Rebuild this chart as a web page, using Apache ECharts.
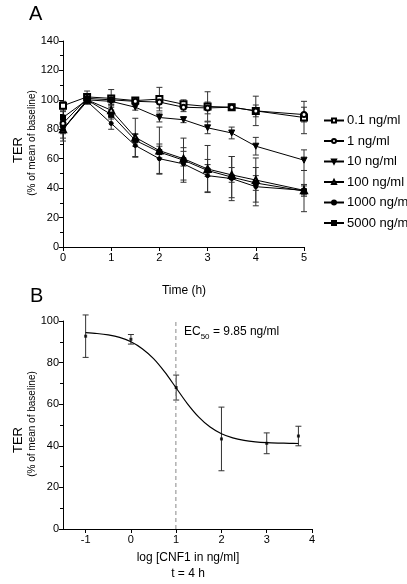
<!DOCTYPE html>
<html><head><meta charset="utf-8">
<script src="https://cdn.jsdelivr.net/npm/echarts@6/dist/echarts.min.js"></script>
<style>html,body{margin:0;padding:0;background:#fff}#c{width:407px;height:584px}</style>
</head><body><div id="c"></div>
<script>
// Panel A: TER over time
const timeH = [0, 0.5, 1, 1.5, 2, 2.5, 3, 3.5, 4, 5];
const seriesNames = ['0.1 ng/ml', '1 ng/ml', '10 ng/ml', '100 ng/ml', '1000 ng/ml', '5000 ng/ml'];
const ter01 = [96, 102, 101, 99.5, 100.5, 97, 95.5, 95, 92.5, 88];
const err01 = [3, 4, 6, 2, 8, 3, 10, 2, 10, 11];
const ter1 = [84, 101, 100, 99, 98.5, 95, 94.5, 95, 92.5, 90];
const err1 = [4, 3, 3, 2, 4, 3, 4, 2, 4, 5];
const ter10 = [80, 100, 99, 95, 88, 86.5, 81, 77.5, 68.5, 59];
const err10 = [3, 2, 3, 2, 3, 2, 4, 4, 6, 7];
const ter100 = [80, 100, 93, 74.5, 65.5, 60, 53, 49, 45.5, 38.5];
const err100 = [6, 2, 4, 13, 16, 5, 16, 5, 15, 4];
const ter1000 = [80, 99, 84, 69, 60, 56.5, 48.5, 46.5, 41, 38.5];
const err1000 = [8, 2, 4, 8, 10, 11, 11, 15, 13, 3];
const ter5000 = [88, 100, 90, 72.5, 64.5, 59, 52, 47.5, 43.5, 38];
const err5000 = [4, 2, 3, 4, 4, 15, 4, 14, 5, 14];

// Panel B: dose response at t = 4 h
const logDose = [-1, 0, 1, 2, 3, 3.7];
const terB = [92.7, 91.2, 68, 43.3, 41.2, 44.7];
const errB = [10.2, 2.3, 6, 15.3, 5, 4.7];
const fitX = [-1, -0.75, -0.5, -0.25, 0, 0.25, 0.5, 0.75, 1, 1.25, 1.5, 1.75, 2, 2.25, 2.5, 2.75, 3, 3.25, 3.5, 3.7];
const fitY = [94.4, 94.0, 93.3, 92.1, 90.0, 86.7, 81.9, 75.4, 67.8, 60.2, 53.8, 49.0, 45.8, 43.8, 42.6, 41.9, 41.5, 41.3, 41.2, 41.1];
const xTicksB = [-1, 0, 1, 2, 3, 4];
const ec50 = 9.85;

const FONT = 'Liberation Sans';
const chart = echarts.init(document.getElementById('c'), null, {renderer: 'canvas'});

function errData(xs, ys, es) {
  return xs.map((x, i) => [x, ys[i] - es[i], ys[i] + es[i]]);
}
function renderErr(params, api) {
  const x = api.value(0), lo = api.value(1), hi = api.value(2);
  const p1 = api.coord([x, lo]), p2 = api.coord([x, hi]);
  const w = 3;
  const st = {stroke: '#333', lineWidth: 1};
  return {type: 'group', children: [
    {type: 'line', shape: {x1: p1[0], y1: p1[1], x2: p2[0], y2: p2[1]}, style: st},
    {type: 'line', shape: {x1: p1[0] - w, y1: p1[1], x2: p1[0] + w, y2: p1[1]}, style: st},
    {type: 'line', shape: {x1: p2[0] - w, y1: p2[1], x2: p2[0] + w, y2: p2[1]}, style: st}
  ]};
}

const vals = [ter01, ter1, ter10, ter100, ter1000, ter5000];
const errs = [err01, err1, err10, err100, err1000, err5000];
const symbols = ['emptyRect', 'emptyCircle', 'triangle', 'emptyTriangle', 'circle', 'rect'];
const sizes = [6, 5, 6, 6, 4, 5];
const rots = [0, 0, 180, 0, 0, 0];

const series = [];
vals.forEach((v, k) => {
  series.push({
    type: 'custom', xAxisIndex: 0, yAxisIndex: 0, renderItem: renderErr,
    encode: {x: 0, y: [1, 2]}, data: errData(timeH, v, errs[k]), z: 1, silent: true
  });
});
vals.forEach((v, k) => {
  series.push({
    name: seriesNames[k], type: 'line', xAxisIndex: 0, yAxisIndex: 0,
    data: timeH.map((t, i) => [t, v[i]]),
    symbol: symbols[k], symbolSize: sizes[k], symbolRotate: rots[k],
    lineStyle: {color: '#000', width: 1}, itemStyle: {color: '#000', borderColor: '#000', borderWidth: 1},
    z: 3
  });
});
// Panel B
series.push({
  type: 'custom', xAxisIndex: 1, yAxisIndex: 1, renderItem: renderErr,
  encode: {x: 0, y: [1, 2]}, data: errData(logDose, terB, errB), z: 1, silent: true
});
series.push({
  type: 'scatter', xAxisIndex: 1, yAxisIndex: 1, symbol: 'rect', symbolSize: 3,
  itemStyle: {color: '#000'}, data: logDose.map((x, i) => [x, terB[i]]), z: 3
});
series.push({
  type: 'line', xAxisIndex: 1, yAxisIndex: 1, smooth: 0.3, showSymbol: false,
  lineStyle: {color: '#000', width: 1.2}, data: fitX.map((x, i) => [x, fitY[i]]), z: 2
});
const logEC = Math.log10(ec50);
series.push({
  type: 'line', xAxisIndex: 1, yAxisIndex: 1, showSymbol: false,
  lineStyle: {color: '#888', width: 1, type: [4, 3]}, data: [[logEC, 0], [logEC, 100]], z: 1
});

const axisCommon = {
  axisLine: {show: true, onZero: false, lineStyle: {color: '#000', width: 1}},
  axisTick: {show: true, inside: false, length: 4, lineStyle: {color: '#000'}},
  axisLabel: {color: '#000', fontFamily: FONT, fontSize: 11, margin: 4},
  splitLine: {show: false}
};

chart.setOption({
  animation: false,
  textStyle: {fontFamily: FONT},
  grid: [
    {left: 63, top: 41, width: 241, height: 206},
    {left: 63, top: 321, width: 249, height: 208}
  ],
  xAxis: [
    Object.assign({}, axisCommon, {type: 'value', gridIndex: 0, min: 0, max: 5, interval: 1,
      axisLabel: Object.assign({}, axisCommon.axisLabel, {margin: 5})}),
    Object.assign({}, axisCommon, {type: 'value', gridIndex: 1, min: -1.5, max: 4,
      axisTick: Object.assign({}, axisCommon.axisTick, {customValues: xTicksB}),
      axisLabel: Object.assign({}, axisCommon.axisLabel, {customValues: xTicksB, margin: 5})})
  ],
  yAxis: [
    Object.assign({}, axisCommon, {type: 'value', gridIndex: 0, min: 0, max: 140, interval: 20,
      minorTick: {show: true, splitNumber: 2, length: 3, lineStyle: {color: '#000'}}}),
    Object.assign({}, axisCommon, {type: 'value', gridIndex: 1, min: 0, max: 100, interval: 20,
      minorTick: {show: true, splitNumber: 2, length: 3, lineStyle: {color: '#000'}}})
  ],
  legend: {
    orient: 'vertical', left: 318, top: 109, itemGap: 7.5, itemWidth: 20, itemHeight: 5,
    data: seriesNames, textStyle: {fontFamily: FONT, fontSize: 13, color: '#000', padding: [0, 0, 0, -2], lineHeight: 13},
    selectedMode: false
  },
  graphic: [
    {type: 'text', left: 29, top: 4, style: {text: 'A', font: '20px ' + FONT, fill: '#000'}},
    {type: 'text', left: 30, top: 286, style: {text: 'B', font: '20px ' + FONT, fill: '#000'}},
    {type: 'text', x: 18, y: 150, rotation: Math.PI / 2,
      style: {text: 'TER', font: '13px ' + FONT, fill: '#000', align: 'center', verticalAlign: 'middle'}},
    {type: 'text', x: 32, y: 143, rotation: Math.PI / 2,
      style: {text: '(% of mean of baseline)', font: '10px ' + FONT, fill: '#000', align: 'center', verticalAlign: 'middle'}},
    {type: 'text', x: 18, y: 440, rotation: Math.PI / 2,
      style: {text: 'TER', font: '13px ' + FONT, fill: '#000', align: 'center', verticalAlign: 'middle'}},
    {type: 'text', x: 32, y: 424, rotation: Math.PI / 2,
      style: {text: '(% of mean of baseline)', font: '10px ' + FONT, fill: '#000', align: 'center', verticalAlign: 'middle'}},
    {type: 'text', x: 184, y: 291,
      style: {text: 'Time (h)', font: '12px ' + FONT, fill: '#000', align: 'center', verticalAlign: 'middle'}},
    {type: 'text', x: 188, y: 558,
      style: {text: 'log [CNF1 in ng/ml]', font: '12px ' + FONT, fill: '#000', align: 'center', verticalAlign: 'middle'}},
    {type: 'text', x: 188, y: 574,
      style: {text: 't = 4 h', font: '12px ' + FONT, fill: '#000', align: 'center', verticalAlign: 'middle'}},
    {type: 'text', x: 184, y: 332,
      style: {text: '{a|EC}{s|50}{a| = 9.85 ng/ml}', align: 'left', verticalAlign: 'middle',
        rich: {a: {font: '12px ' + FONT, fill: '#000', verticalAlign: 'bottom'},
               s: {font: '8px ' + FONT, fill: '#000', verticalAlign: 'bottom', padding: [0, 0, -3, 0]}}}}
  ],
  series: series
});
</script></body></html>
